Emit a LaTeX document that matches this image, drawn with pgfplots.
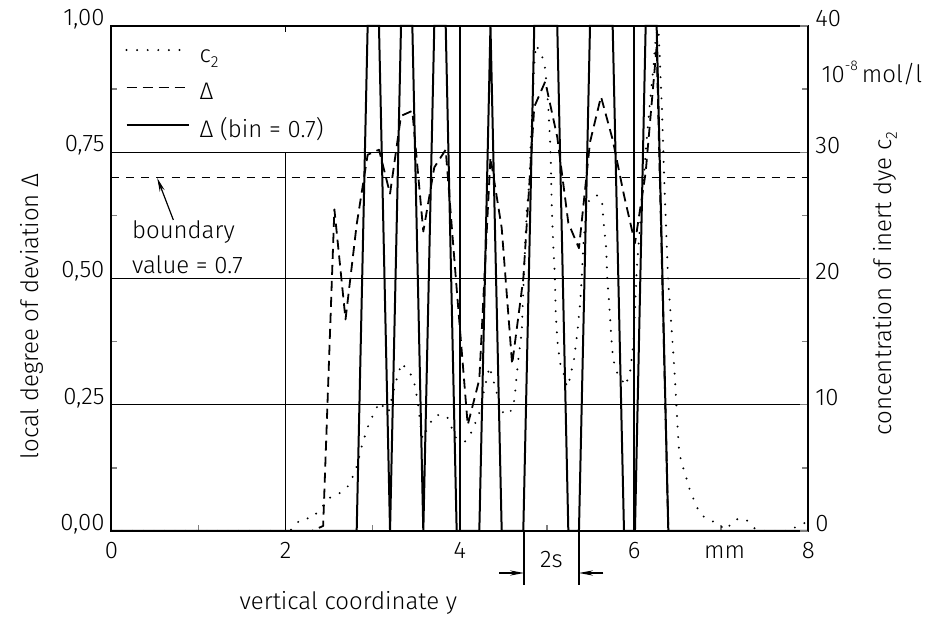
\documentclass[border=0pt]{standalone}
\usepackage{fontspec}
\IfFontExistsTF{Fira Sans Light}{\setmainfont{Fira Sans Light}}{\setmainfont{Fira Sans}}
\usepackage{pgfplots}
\pgfplotsset{compat=1.18}
\usetikzlibrary{arrows.meta}

\tikzset{
  cline/.style={line width=1.1pt, line cap=round, dash pattern=on 0pt off 5.3pt},
  dline/.style={line width=0.9pt, line join=round, dash pattern=on 5pt off 3pt},
  bline/.style={line width=1pt, line join=miter},
  gline/.style={line width=0.7pt},
  arr/.style={-{Stealth[length=7pt,width=2.6pt]}, line width=0.6pt},
}
\newcommand{\sub}[1]{\raisebox{-0.45ex}{\footnotesize #1}}

\begin{document}
\begin{tikzpicture}[font=\fontsize{12}{14.4}\selectfont]
\useasboundingbox (-55.75pt,-44pt) rectangle (406.75pt,265.5pt);

\begin{axis}[
  at={(0,0)}, anchor=south west,
  scale only axis, width=348.4pt, height=252.5pt,
  xmin=0, xmax=8, ymin=0, ymax=1,
  clip=false,
  axis line style={line width=1pt},
  tick align=inside, major tick length=4pt, minor tick length=3pt,
  tick style={line width=0.7pt},
  xtick pos=bottom, ytick pos=left,
  xtick={0,2,4,6,8}, xticklabels={0,2,4,6,8},
  minor xtick={1,3,5,7},
  extra x ticks={7.04}, extra x tick labels={\vphantom{8}mm},
  extra x tick style={major tick length=0pt},
  xticklabel style={anchor=north, yshift=-2pt},
  ytick={0,0.25,0.5,0.75,1},
  yticklabels={{0,00},{0,25},{0,50},{0,75},{1,00}},
  yticklabel style={yshift=3.5pt},
  minor ytick={0.125,0.375,0.625,0.875},
  legend style={at={(axis description cs:0.0194,0.965)}, anchor=north west,
    draw=none, fill=none, inner sep=0pt, row sep=6.75pt,
    nodes={inner sep=0pt, text height=9pt, text depth=3pt},
    /tikz/every odd column/.append style={column sep=5pt}},
  legend cell align=left,
  legend image code/.code={\draw[#1] (0pt,3pt) -- (31pt,3pt);},
]
% grid
\draw[gline] (axis cs:0,0.25) -- (axis cs:8,0.25);
\draw[gline] (axis cs:0,0.5) -- (axis cs:8,0.5);
\draw[gline] (axis cs:0,0.75) -- (axis cs:8,0.75);
\draw[gline] (axis cs:2,0) -- (axis cs:2,0.75);
\draw[gline] (axis cs:4,0) -- (axis cs:4,1);
\draw[gline] (axis cs:6,0) -- (axis cs:6,1);
\draw[gline] (axis cs:2,1) -- ++(0,-3pt);

\addlegendimage{cline}
\addlegendentry{c\sub{2}}

% local degree of deviation
\addplot[dline] coordinates {
(0,0) (2.30,0) (2.43,0.01) (2.559,0.637) (2.687,0.419) (2.815,0.607)
(2.941,0.745) (3.071,0.755) (3.198,0.668) (3.324,0.822) (3.454,0.832)
(3.580,0.593) (3.706,0.72) (3.837,0.755) (3.963,0.48) (4.09,0.21)
(4.223,0.30) (4.351,0.74) (4.48,0.60) (4.60,0.33) (4.728,0.50)
(4.854,0.84) (4.98,0.89) (5.118,0.78) (5.245,0.61) (5.367,0.56)
(5.494,0.77) (5.62,0.86) (5.754,0.775) (5.884,0.665) (6.01,0.57)
(6.133,0.71) (6.259,0.96) (6.393,0) (8,0)
};
\addlegendentry{Δ}

% binarised deviation
\addplot[bline] coordinates {
(0,0) (2.815,0) (2.941,1) (3.071,1) (3.198,0) (3.324,1) (3.454,1)
(3.580,0) (3.706,1) (3.837,1) (3.963,0) (4.09,0) (4.223,0) (4.351,1)
(4.480,0) (4.60,0) (4.728,0) (4.854,1) (4.98,1) (5.118,1) (5.245,0)
(5.367,0) (5.494,1) (5.62,1) (5.754,1) (5.884,0) (6.01,0) (6.133,1)
(6.259,1) (6.393,0) (8,0)
};
\addlegendentry{Δ (bin = 0.7)}

% boundary value
\addplot[dline, dash pattern=on 4pt off 3.5pt, forget plot] coordinates {(0,0.7) (8,0.7)};

\draw[arr] (axis cs:0.71,0.616) -- (axis cs:0.525,0.699);
\node[anchor=base west, inner sep=0pt] at (axis cs:0.232,0.580) {boundary};
\node[anchor=base west, inner sep=0pt] at (axis cs:0.232,0.510) {value = 0.7};

% 2s marker
\draw[gline] (axis cs:4.736,0) -- ++(0,-27pt);
\draw[gline] (axis cs:5.367,0) -- ++(0,-27pt);
\draw[arr] ([yshift=-21pt]axis cs:4.452,0) -- ([yshift=-21pt]axis cs:4.736,0);
\draw[arr] ([yshift=-21pt]axis cs:5.646,0) -- ([yshift=-21pt]axis cs:5.367,0);
\node at ([yshift=-14.5pt]axis cs:5.05,0) {2s};

% labels
\node[rotate=90] at (axis description cs:-0.114,0.425) {local degree of deviation Δ};
\node[rotate=90] at (axis description cs:1.110,0.49) {concentration of inert dye c\sub{2}};
\node at (axis description cs:0.34,-0.1426) {vertical coordinate y};
\node[anchor=west, inner sep=0pt] at ([xshift=6.5pt]axis description cs:1,0.907) {10\raisebox{0.9ex}{\scriptsize -8}\,mol/l};
\end{axis}

\begin{axis}[
  at={(0,0)}, anchor=south west,
  scale only axis, width=348.4pt, height=252.5pt,
  xmin=0, xmax=8, ymin=0, ymax=40,
  axis x line=none, axis y line*=right,
  axis line style={line width=1pt},
  tick align=inside, major tick length=4pt, minor tick length=3pt,
  tick style={line width=0.7pt},
  ytick={0,10,20,30,40}, yticklabels={0,10,20,30,40},
  yticklabel style={yshift=3.5pt},
  minor ytick={5,15,25,35},
]
% concentration of inert dye
\addplot[cline] coordinates {
(0,0) (2.05,0) (2.12,0.6) (2.20,1.0) (2.30,1.0) (2.41,1.85) (2.51,2.65)
(2.62,3.0) (2.71,3.5) (2.77,4.3) (2.82,5.2) (2.88,6.9) (2.96,8.6)
(3.02,9.4) (3.075,10.2) (3.18,9.4) (3.255,11.6) (3.33,13.3) (3.43,12.5)
(3.485,11.5) (3.52,10.0) (3.56,7.6) (3.58,7.3) (3.64,8.4) (3.73,9.2)
(3.85,9.1) (3.91,8.1) (3.96,7.3) (4.06,7.1) (4.13,7.8) (4.185,8.7)
(4.23,9.5) (4.28,11.2) (4.34,13.0) (4.38,12.0) (4.415,11.2) (4.44,10.3)
(4.47,9.5) (4.555,9.2) (4.61,9.8) (4.63,10.6) (4.65,12.2) (4.67,13.5)
(4.71,15.8) (4.75,22.9) (4.77,25.6) (4.80,27.8) (4.816,31.1) (4.836,33.8)
(4.85,36.6) (4.874,38.5) (4.94,37.7) (4.98,36.6) (5.015,33.6) (5.034,31.1)
(5.045,28.9) (5.054,25.9) (5.07,22.9) (5.09,20.2) (5.10,17.4) (5.12,15.0)
(5.15,13.3) (5.19,12.5) (5.23,11.4) (5.26,12.0) (5.31,13.6) (5.35,15.8)
(5.38,18.0) (5.40,20.2) (5.42,22.9) (5.455,25.6) (5.49,26.3) (5.57,26.6)
(5.63,26.2) (5.65,24.5) (5.68,22.4) (5.69,20.2) (5.72,17.4) (5.74,15.2)
(5.76,13.6) (5.80,12.6) (5.86,12.0) (5.895,11.5) (5.95,12.4) (5.99,14.7)
(6.01,17.4) (6.03,20.7) (6.07,24.3) (6.105,27.3) (6.14,30.6) (6.18,33.8)
(6.22,36.6) (6.25,39.3) (6.28,39.8) (6.32,33.4) (6.35,27.0) (6.39,20.0)
(6.43,16.1) (6.47,12.0) (6.50,8.2) (6.515,6.5) (6.535,5.7) (6.57,4.85)
(6.61,3.97) (6.645,3.12) (6.70,2.27) (6.75,1.45) (6.83,0.95) (6.95,0.64)
(7.05,0.08) (7.16,0.92) (7.28,0.95) (7.39,0.16) (7.45,0) (7.80,0)
(7.87,0.42) (7.97,0.66) (8,0.7)
};
\end{axis}
\end{tikzpicture}
\end{document}
